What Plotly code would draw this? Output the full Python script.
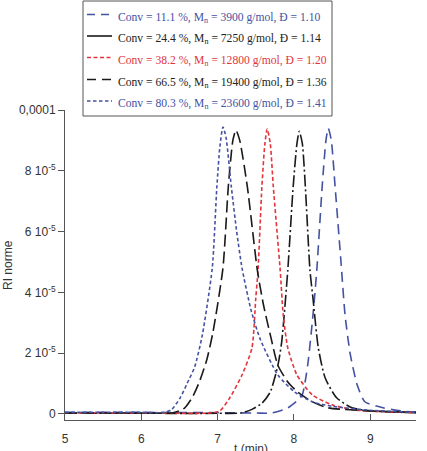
import plotly.graph_objects as go

# Data (t in min, RI in units of 1e-5)
t_11 = [5.0, 6.0, 7.0, 7.5, 7.71, 7.92, 8.05, 8.11, 8.18, 8.25, 8.30, 8.37, 8.42, 8.45, 8.49, 8.54, 8.62, 8.67, 8.74, 8.83, 8.93, 9.17, 9.4, 9.6]
ri_11 = [0.05, 0.05, 0.04, 0.03, 0.03, 0.2, 0.45, 0.63, 1.6, 3.26, 4.74, 7.47, 9.0, 9.4, 9.0, 7.47, 4.9, 3.26, 1.94, 0.95, 0.4, 0.2, 0.1, 0.06]

t_24 = [5.0, 6.0, 7.0, 7.3, 7.45, 7.58, 7.69, 7.79, 7.84, 7.92, 7.99, 8.04, 8.07, 8.11, 8.15, 8.21, 8.25, 8.32, 8.41, 8.56, 8.76, 9.0, 9.3, 9.6]
ri_24 = [0.02, 0.02, 0.02, 0.03, 0.15, 0.35, 0.72, 1.6, 2.37, 4.74, 7.47, 8.9, 9.3, 8.9, 7.47, 4.74, 3.8, 2.17, 1.18, 0.53, 0.2, 0.1, 0.06, 0.04]

t_38 = [5.0, 6.0, 6.9, 7.03, 7.16, 7.32, 7.45, 7.50, 7.53, 7.58, 7.62, 7.65, 7.69, 7.73, 7.82, 7.86, 7.92, 8.04, 8.24, 8.5, 8.8, 9.2, 9.6]
ri_38 = [0.03, 0.03, 0.03, 0.1, 0.53, 1.28, 2.17, 3.8, 4.74, 7.47, 8.9, 9.37, 8.9, 7.47, 4.74, 3.26, 2.17, 1.28, 0.63, 0.3, 0.13, 0.07, 0.04]

t_66 = [5.0, 6.0, 6.4, 6.5, 6.57, 6.67, 6.76, 6.86, 6.94, 7.07, 7.14, 7.2, 7.24, 7.29, 7.39, 7.52, 7.6, 7.7, 7.79, 7.92, 8.05, 8.24, 8.45, 9.0, 9.6]
ri_66 = [0.03, 0.03, 0.03, 0.1, 0.2, 0.55, 1.05, 1.8, 2.7, 4.8, 7.47, 9.0, 9.34, 9.0, 7.47, 4.74, 3.6, 2.5, 1.6, 1.05, 0.72, 0.4, 0.2, 0.1, 0.05]

t_80 = [5.0, 5.5, 6.0, 6.3, 6.4, 6.51, 6.6, 6.7, 6.8, 6.93, 6.99, 7.03, 7.07, 7.11, 7.18, 7.25, 7.32, 7.44, 7.56, 7.79, 8.01, 8.24, 8.5, 9.0, 9.6]
ri_80 = [0.05, 0.05, 0.05, 0.05, 0.15, 0.53, 1.0, 1.55, 2.6, 4.8, 7.47, 8.8, 9.44, 9.1, 7.47, 6.0, 4.8, 3.4, 2.45, 1.28, 0.72, 0.4, 0.25, 0.12, 0.05]

labels = [
    "Conv = 11.1 %, M<sub>n</sub> = 3900 g/mol, Đ = 1.10",
    "Conv = 24.4 %, M<sub>n</sub> = 7250 g/mol, Đ = 1.14",
    "Conv = 38.2 %, M<sub>n</sub> = 12800 g/mol, Đ = 1.20",
    "Conv = 66.5 %, M<sub>n</sub> = 19400 g/mol, Đ = 1.36",
    "Conv = 80.3 %, M<sub>n</sub> = 23600 g/mol, Đ = 1.41",
]

y_tickvals = [0, 2e-5, 4e-5, 6e-5, 8e-5, 1e-4]
y_ticktext = ["0", "2 10<sup>-5</sup>", "4 10<sup>-5</sup>", "6 10<sup>-5</sup>", "8 10<sup>-5</sup>", "0,0001"]
x_tickvals = [5, 6, 7, 8, 9]

BLUE = "#4452a3"
RED = "#e2363c"
BLACK = "#1a1a1a"

# (t, ri, label, colour, plot dash, legend-sample dash)
series = [
    (t_11, ri_11, labels[0], BLUE, "10px,6px", "8px,6px"),
    (t_24, ri_24, labels[1], BLACK, "12px,3px,2px,3px", "solid"),
    (t_38, ri_38, labels[2], RED, "4px,2.5px", "4px,2.5px"),
    (t_66, ri_66, labels[3], BLACK, "12px,5px", "9px,6px"),
    (t_80, ri_80, labels[4], BLUE, "3.5px,2.5px", "3.5px,2.5px"),
]

# pixel helpers for the plot area (l=65, r=11, t=110, b=31 in a 427x451 figure)
L, R, T, B, W, H = 65, 11, 110, 31, 427, 451
PW, PH = W - L - R, H - T - B
def px(x):
    return (x - L) / PW
def py(y):
    return (H - B - y) / PH

fig = go.Figure()
for t, ri, name, col, dash, _ in series:
    fig.add_trace(go.Scatter(
        x=t, y=[v * 1e-5 for v in ri], mode="lines", name=name, showlegend=False,
        line=dict(color=col, width=1.6, dash=dash, shape="spline", smoothing=0.6),
    ))

fig.update_layout(
    width=W, height=H,
    margin=dict(l=L, r=R, t=T, b=B, autoexpand=False),
    paper_bgcolor="white", plot_bgcolor="white",
    font=dict(family="Liberation Sans, Arial, sans-serif", size=12, color="#333"),
    showlegend=False,
)
fig.update_xaxes(
    range=[5, 9.6], tickvals=x_tickvals, ticks="inside", ticklen=6,
    showline=True, linecolor="#555", linewidth=1, tickcolor="#555",
    showgrid=False, zeroline=False, tickfont=dict(size=12, color="#333"),
    ticklabelstandoff=8, automargin=False,
)
fig.update_yaxes(
    range=[-2e-6, 1e-4], tickvals=y_tickvals, ticktext=y_ticktext, ticks="outside", ticklen=6,
    showline=True, linecolor="#555", linewidth=1, tickcolor="#555",
    showgrid=False, zeroline=False, tickfont=dict(size=12, color="#333"),
    automargin=False,
)

# manual legend box
fig.add_shape(type="rect", xref="paper", yref="paper",
              x0=px(83), x1=px(332), y0=py(116), y1=py(1),
              line=dict(color="#555", width=1), fillcolor="white", layer="above")
row_y = [14.5, 36, 57.5, 79.5, 101]
for (t, ri, name, col, dash, ldash), ry in zip(series, row_y):
    fig.add_shape(type="line", xref="paper", yref="paper",
                  x0=px(87), x1=px(112), y0=py(ry), y1=py(ry),
                  line=dict(color=col, width=1.6, dash=ldash), layer="above")
    fig.add_annotation(text=name, x=px(116), y=py(ry + 3), xref="paper", yref="paper",
                       xanchor="left", yanchor="middle", showarrow=False,
                       font=dict(family="Liberation Serif, Times New Roman, serif", size=11.6,
                                 color=col if col != BLACK else "#222"))

fig.add_annotation(text="t (min)", x=px(251), xref="paper", y=py(449), yref="paper",
                   xanchor="center", yanchor="middle", showarrow=False,
                   font=dict(size=12, color="#333"))
fig.add_annotation(text="RI norme", x=px(8), xref="paper", y=py(265), yref="paper",
                   textangle=-90, xanchor="center", yanchor="middle", showarrow=False,
                   font=dict(size=12, color="#333"))

fig.write_html("out.html")
